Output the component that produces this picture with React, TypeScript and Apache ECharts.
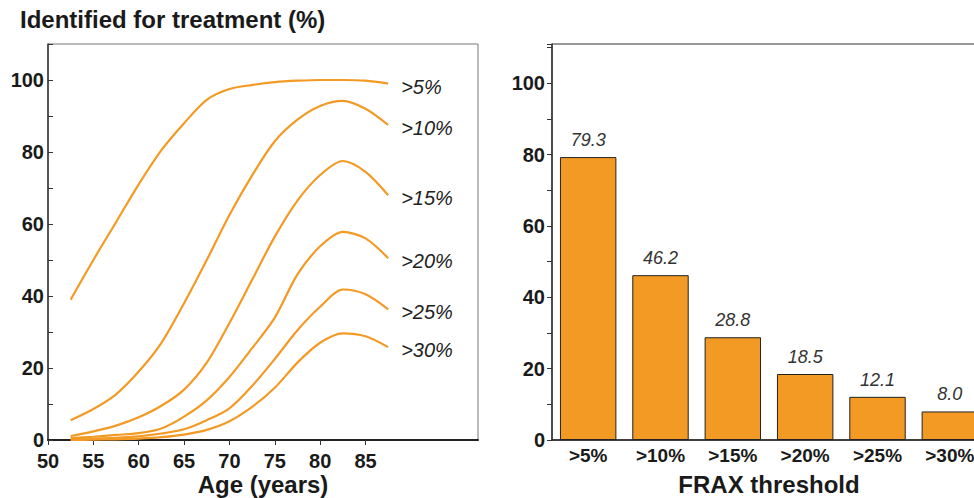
import React, { useEffect, useRef } from "react";
import * as echarts from "echarts";

const ages = [52.5, 55, 57.5, 60, 62.5, 65, 67.5, 70, 72.5, 75, 77.5, 80, 82.5, 85, 87.5];
const seriesNames = [">5%", ">10%", ">15%", ">20%", ">25%", ">30%"];
const t5 = [39, 50, 60.5, 71, 80.5, 88, 94.5, 97.5, 98.6, 99.4, 99.8, 100, 100, 99.8, 99];
const t10 = [5.5, 8.6, 12.7, 19, 27, 38, 50, 62.5, 73.5, 83, 89, 92.8, 94.2, 92, 87.5];
const t15 = [1.1, 2.4, 4, 6.3, 9.5, 14, 21.5, 32.5, 44.5, 56.5, 66.5, 73.6, 77.5, 74.5, 68];
const t20 = [0.5, 0.9, 1.4, 1.9, 3.2, 6.5, 11, 17.5, 25.5, 34, 46, 53.8, 57.8, 56, 50.5];
const t25 = [0.3, 0.4, 0.6, 1, 1.8, 3, 5.5, 8.8, 15, 22.5, 30.5, 37, 41.8, 40.5, 36.3];
const t30 = [0, 0.1, 0.2, 0.4, 0.8, 1.5, 2.8, 5.2, 9.2, 14.5, 21.5, 27, 29.6, 28.8, 25.8];
const lineValues = [t5, t10, t15, t20, t25, t30];

const barCategories = [">5%", ">10%", ">15%", ">20%", ">25%", ">30%"];
const barValues = [79.3, 46.2, 28.8, 18.5, 12.1, 8.0];

const xTickLabels = [50, 55, 60, 65, 70, 75, 80, 85];

const ORANGE = "#F39A25";
const FONT = "'Liberation Sans', Arial, Helvetica, sans-serif";
const TXT = "#1a1a1a";

export default function App() {
  const ref = useRef<HTMLDivElement>(null);
  useEffect(() => {
    if (!ref.current) return;
    const chart = echarts.init(ref.current, null, { renderer: "svg" });
    const lineSeries = lineValues.map((vals, i) => ({
      type: "line",
      name: seriesNames[i],
      xAxisIndex: 0,
      yAxisIndex: 0,
      data: ages.map((a, j) => [a, vals[j]]),
      smooth: 0.3,
      showSymbol: false,
      symbol: "none",
      lineStyle: { color: ORANGE, width: 2.2 },
      itemStyle: { color: ORANGE },
      endLabel: {
        show: true,
        formatter: seriesNames[i],
        fontStyle: "italic",
        fontSize: 20,
        fontFamily: FONT,
        color: "#222",
        distance: 13,
        offset: [0, 3],
      },
      z: 3,
    }));
    chart.setOption({
      animation: false,
      textStyle: { fontFamily: FONT },
      graphic: [
        {
          type: "text",
          left: 20,
          top: 7,
          style: {
            text: "Identified for treatment (%)",
            font: `bold 24px ${FONT}`,
            fill: TXT,
          },
        },
      ],
      grid: [
        {
          left: 48, top: 44, width: 430, height: 396,
          show: true, borderColor: "#777", borderWidth: 1,
          outerBoundsMode: "none", containLabel: false,
        },
        {
          left: 552, top: 44, width: 434, height: 396,
          show: true, borderColor: "#333", borderWidth: 1,
          outerBoundsMode: "none", containLabel: false,
        },
      ],
      xAxis: [
        {
          type: "value",
          gridIndex: 0,
          min: 50,
          max: 97.4,
          interval: 5,
          name: "Age (years)",
          nameLocation: "middle",
          nameGap: 32,
          nameMoveOverlap: false,
          nameTextStyle: { fontSize: 24, fontWeight: "bold", color: TXT, fontFamily: FONT },
          splitLine: { show: false },
          axisLine: { show: true, lineStyle: { color: "#222", width: 2 } },
          axisTick: { show: true, customValues: xTickLabels, length: 5, inside: false, lineStyle: { color: "#333" } },
          axisLabel: {
            customValues: xTickLabels,
            fontSize: 20,
            fontWeight: "bold",
            color: TXT,
            margin: 11,
            fontFamily: FONT,
          },
        },
        {
          type: "category",
          gridIndex: 1,
          data: barCategories,
          name: "FRAX threshold",
          nameLocation: "middle",
          nameGap: 32,
          nameMoveOverlap: false,
          nameTextStyle: { fontSize: 24, fontWeight: "bold", color: TXT, fontFamily: FONT },
          axisLine: { show: true, lineStyle: { color: "#222", width: 1.5 } },
          axisTick: { show: false },
          axisLabel: { fontSize: 19, fontWeight: "bold", color: TXT, margin: 6, fontFamily: FONT },
        },
      ],
      yAxis: [
        {
          type: "value",
          gridIndex: 0,
          min: 0,
          max: 110,
          interval: 10,
          splitLine: { show: false },
          axisLine: { show: true, lineStyle: { color: "#333", width: 1.5 } },
          axisTick: { show: true, inside: true, length: 5, lineStyle: { color: "#333" } },
          axisLabel: {
            fontSize: 20,
            fontWeight: "bold",
            color: TXT,
            margin: 4,
            fontFamily: FONT,
            formatter: (v: number) => (v % 20 === 0 && v <= 100 ? String(v) : ""),
          },
        },
        {
          type: "value",
          gridIndex: 1,
          min: 0,
          max: 111,
          interval: 10,
          splitLine: { show: false },
          axisLine: { show: true, lineStyle: { color: "#333", width: 1.5 } },
          axisTick: { show: true, inside: false, length: 5, lineStyle: { color: "#333" } },
          axisLabel: {
            fontSize: 20,
            fontWeight: "bold",
            color: TXT,
            margin: 7,
            fontFamily: FONT,
            formatter: (v: number) => (v % 20 === 0 && v <= 100 ? String(v) : ""),
          },
        },
      ],
      series: [
        ...lineSeries,
        {
          type: "bar",
          xAxisIndex: 1,
          yAxisIndex: 1,
          data: barValues,
          barCategoryGap: "22%",
          itemStyle: { color: ORANGE, borderColor: "#222", borderWidth: 1 },
          label: {
            show: true,
            position: "top",
            distance: 8,
            fontSize: 18,
            fontStyle: "italic",
            color: "#333",
            fontFamily: FONT,
            formatter: (p: any) => Number(p.value).toFixed(1),
          },
        },
      ],
    });
    return () => chart.dispose();
  }, []);
  return (
    <div
      ref={ref}
      style={{ position: "fixed", left: 0, top: 0, width: 974, height: 498, background: "#fff", overflow: "hidden" }}
    />
  );
}
